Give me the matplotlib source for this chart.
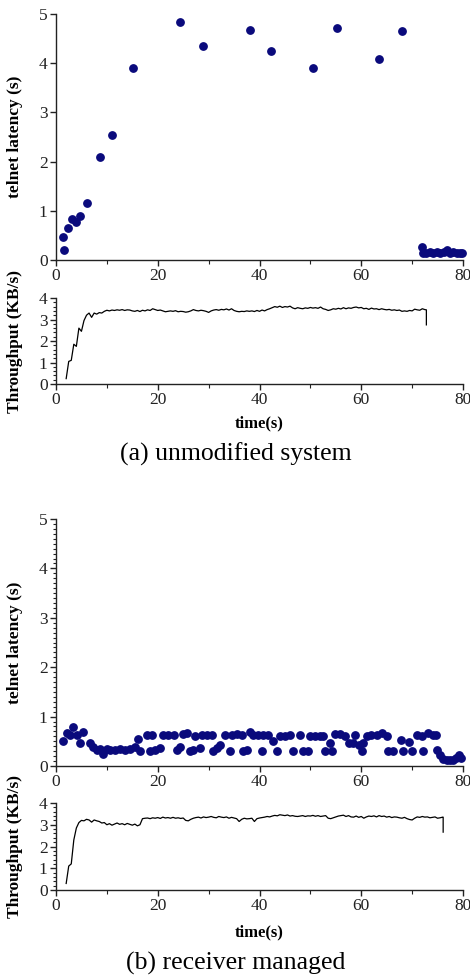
import numpy as np
import matplotlib
matplotlib.use("Agg")
import matplotlib.pyplot as plt
from matplotlib.ticker import MultipleLocator

plt.rcParams['font.family'] = ['Liberation Serif', 'DejaVu Serif']

# ---- (a) unmodified system: telnet latency samples
lat_a_t = [1.4, 1.6, 2.3, 3.1, 3.9, 4.8, 6.0, 8.6, 11.1, 15.1, 24.4, 28.8, 38.1, 42.3,
           50.6, 55.3, 63.4, 68.1,
           71.9, 72.2, 72.8, 73.5, 74.2, 74.9, 75.5, 76.2, 76.9, 77.5, 78.1, 78.8, 79.4, 79.9]
lat_a_v = [0.47, 0.21, 0.66, 0.84, 0.78, 0.89, 1.16, 2.09, 2.55, 3.9, 4.84, 4.35, 4.68, 4.24,
           3.91, 4.72, 4.09, 4.66,
           0.26, 0.15, 0.14, 0.17, 0.14, 0.17, 0.14, 0.17, 0.21, 0.15, 0.17, 0.14, 0.15, 0.15]

# ---- (a) throughput, sampled every 0.5 s from 2.0 s, then the final drop
thr_a_v = [0.25, 1.05, 1.1, 1.85, 1.75, 2.6, 2.45, 2.95, 3.2, 3.3,
           3.1, 3.3, 3.25, 3.32, 3.3, 3.38, 3.43, 3.4, 3.44, 3.42,
           3.45, 3.43, 3.46, 3.42, 3.45, 3.44, 3.4, 3.38, 3.42, 3.37,
           3.43, 3.4, 3.45, 3.42, 3.5, 3.46, 3.42, 3.44, 3.4, 3.36,
           3.38, 3.4, 3.38, 3.41, 3.36, 3.38, 3.37, 3.34, 3.36, 3.4,
           3.46, 3.42, 3.4, 3.43, 3.41, 3.38, 3.33, 3.4, 3.44, 3.46,
           3.43, 3.47, 3.45, 3.49, 3.44, 3.5, 3.42, 3.38, 3.36, 3.38,
           3.37, 3.4, 3.38, 3.4, 3.37, 3.42, 3.38, 3.44, 3.4, 3.46,
           3.5, 3.55, 3.6, 3.57, 3.62, 3.56, 3.6, 3.58, 3.62, 3.54,
           3.5, 3.55, 3.52, 3.5, 3.54, 3.52, 3.56, 3.53, 3.55, 3.52,
           3.58, 3.5, 3.47, 3.42, 3.45, 3.5, 3.48, 3.52, 3.49, 3.55,
           3.5, 3.54, 3.52, 3.56, 3.58, 3.54, 3.56, 3.5, 3.52, 3.47,
           3.53, 3.49, 3.5, 3.46, 3.5, 3.47, 3.45, 3.47, 3.43, 3.45,
           3.42, 3.44, 3.38, 3.4, 3.38, 3.42, 3.4, 3.48, 3.45, 3.43,
           3.5, 3.46]
thr_a_t = list(np.arange(len(thr_a_v)) * 0.5 + 2.0)
thr_a_end_t = [72.8, 72.8]
thr_a_end_v = [3.45, 2.75]

# ---- (b) receiver managed: telnet latency samples
lat_b_t = [1.4, 2.1, 2.7, 3.4, 4.2, 4.7, 5.4, 6.7, 7.3, 8.0, 8.6, 9.3, 10.0, 10.6, 11.6,
           12.6, 13.6, 14.5, 15.5, 16.2, 16.5, 17.8, 18.5, 18.8, 19.5, 20.4, 21.1, 22.1,
           23.1, 23.7, 24.4, 25.0, 25.7, 26.3, 27.0, 27.3, 28.3, 28.6, 29.6, 30.6, 30.9,
           31.6, 32.2, 33.2, 34.2, 34.5, 35.5, 36.5, 36.8, 37.5, 38.1, 38.8, 39.8, 40.4,
           40.7, 41.7, 42.6, 43.4, 44.0, 45.0, 46.0, 46.6, 47.9, 48.6, 49.6, 49.9, 50.9,
           51.9, 52.5, 52.9, 53.9, 54.2, 54.8, 55.8, 56.8, 57.5, 58.4, 58.8, 59.6, 60.1,
           60.4, 61.1, 62.0, 63.0, 64.0, 65.0, 65.3, 66.3, 67.9, 68.3, 69.3, 69.9, 70.9,
           71.9, 72.2, 73.2, 74.2, 74.7, 74.8, 75.5, 76.1, 76.8, 77.4, 78.1, 78.7, 79.2, 79.7]
lat_b_v = [0.51, 0.66, 0.63, 0.78, 0.63, 0.46, 0.69, 0.47, 0.39, 0.33, 0.35, 0.25, 0.34, 0.32, 0.33,
           0.35, 0.33, 0.35, 0.39, 0.54, 0.31, 0.63, 0.31, 0.63, 0.32, 0.37, 0.63, 0.63,
           0.63, 0.32, 0.39, 0.64, 0.66, 0.31, 0.32, 0.61, 0.37, 0.63, 0.63, 0.63, 0.31,
           0.37, 0.42, 0.63, 0.31, 0.63, 0.65, 0.63, 0.31, 0.32, 0.69, 0.63, 0.63, 0.31,
           0.63, 0.63, 0.51, 0.31, 0.61, 0.61, 0.63, 0.31, 0.63, 0.31, 0.31, 0.61, 0.61,
           0.61, 0.61, 0.31, 0.47, 0.31, 0.64, 0.64, 0.61, 0.47, 0.47, 0.63, 0.42, 0.31,
           0.46, 0.61, 0.63, 0.63, 0.67, 0.61, 0.31, 0.31, 0.52, 0.31, 0.49, 0.31, 0.63,
           0.61, 0.31, 0.67, 0.63, 0.63, 0.32, 0.22, 0.15, 0.13, 0.12, 0.13, 0.17, 0.22, 0.17]

# ---- (b) throughput, sampled every 0.5 s from 2.0 s, then the final drop
thr_b_v = [0.3, 1.1, 1.2, 2.3, 2.85, 3.1, 3.2, 3.18, 3.25, 3.22,
           3.12, 3.22, 3.18, 3.15, 3.08, 3.1, 3.0, 3.05, 2.98, 3.03,
           3.08, 3.02, 3.05, 3.0, 3.06, 3.02, 2.98, 3.03, 2.95, 3.0,
           3.28, 3.3, 3.31, 3.28, 3.32, 3.3, 3.33, 3.29, 3.35, 3.31,
           3.33, 3.3, 3.34, 3.3, 3.32, 3.29, 3.31, 3.2, 3.18, 3.25,
           3.3, 3.33, 3.35, 3.31, 3.36, 3.33, 3.35, 3.38, 3.34, 3.32,
           3.38, 3.35, 3.33, 3.36, 3.3, 3.34, 3.31, 3.28, 3.15, 3.25,
           3.3, 3.27, 3.28, 3.3, 3.15, 3.28, 3.31, 3.33, 3.35, 3.38,
           3.36, 3.4, 3.43, 3.41, 3.46, 3.44, 3.42, 3.45, 3.4, 3.42,
           3.39, 3.38, 3.4, 3.42, 3.38, 3.41, 3.4, 3.43, 3.39, 3.42,
           3.38, 3.4, 3.42, 3.3, 3.28, 3.32, 3.36, 3.4, 3.42, 3.44,
           3.38, 3.42, 3.36, 3.35, 3.4, 3.34, 3.38, 3.3, 3.36, 3.4,
           3.38, 3.41, 3.36, 3.42, 3.38, 3.4, 3.35, 3.38, 3.33, 3.36,
           3.35, 3.32, 3.3, 3.34, 3.28, 3.24, 3.22, 3.3, 3.36, 3.34,
           3.38, 3.35, 3.36, 3.32, 3.34, 3.36, 3.3, 3.32, 3.35]
thr_b_t = list(np.arange(len(thr_b_v)) * 0.5 + 2.0)
thr_b_end_t = [76.1, 76.1]
thr_b_end_v = [3.35, 2.66]

xticks = [0, 20, 40, 60, 80]
captions = ['(a) unmodified system', '(b) receiver managed']

DOT = '#0a0a7c'
TICKC = '#222222'
W, H = 470, 980


def rect(x0, top, x1, bot):
    return [x0 / W, 1 - bot / H, (x1 - x0) / W, (bot - top) / H]


def style(ax, ymax, yminor):
    for s in ['top', 'right']:
        ax.spines[s].set_visible(False)
    for s in ['left', 'bottom']:
        ax.spines[s].set_linewidth(1.0)
        ax.spines[s].set_color('#222222')
    ax.set_xlim(0, 80)
    ax.set_ylim(0, ymax)
    ax.set_xticks(xticks)
    ax.xaxis.set_minor_locator(MultipleLocator(10))
    ax.set_yticks(range(0, ymax + 1))
    if yminor:
        ax.yaxis.set_minor_locator(MultipleLocator(yminor))
    ax.tick_params(which='major', direction='out', length=4, width=1.0,
                   labelsize=12.5, colors=TICKC, pad=2)
    ax.tick_params(which='minor', direction='out', length=3, width=0.8, colors=TICKC)
    ax.tick_params(axis='y', which='minor', length=2.5)


fig = plt.figure(figsize=(W / 100, H / 100), dpi=100)

panels = [
    (lat_a_t, lat_a_v, thr_a_t, thr_a_v, thr_a_end_t, thr_a_end_v, 14, 260, 298, 384, None, 39, 70),
    (lat_b_t, lat_b_v, thr_b_t, thr_b_v, thr_b_end_t, thr_b_end_v, 519, 766, 803, 890, 0.1, 42, 73),
]

for i, (lt, lv, tt, tv, et, ev, t1, b1, t2, b2, lminor, dx, dc) in enumerate(panels):
    ax1 = fig.add_axes(rect(56, t1, 463, b1))
    ax1.plot(lt, lv, 'o', color=DOT, ms=5.3, mec=DOT, clip_on=False)
    style(ax1, 5, lminor)
    ax1.set_ylabel('telnet latency (s)', fontsize=12.5, fontweight='bold')
    ax1.yaxis.set_label_coords(-0.082, 0.5)

    ax2 = fig.add_axes(rect(56, t2, 463, b2))
    ax2.plot(tt + et, tv + ev, color='black', lw=0.9)
    style(ax2, 4, 0.2)
    ax2.set_ylabel('Throughput (KB/s)', fontsize=12.5, fontweight='bold')
    ax2.yaxis.set_label_coords(-0.082, 0.5)

    fig.text(259 / W, 1 - (b2 + dx) / H, 'time(s)', ha='center', va='center',
             fontsize=12, fontweight='bold')
    fig.text(236 / W, 1 - (b2 + dc) / H, captions[i], ha='center', va='center', fontsize=18.5)

fig.savefig('out.png', dpi=100)
